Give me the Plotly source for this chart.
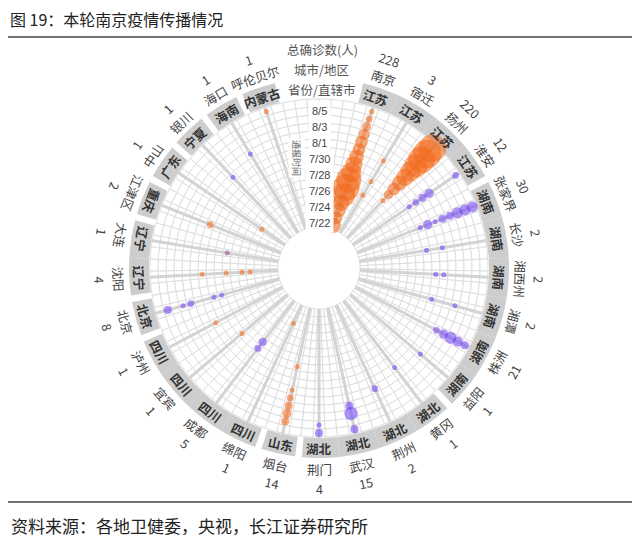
import math
import plotly.graph_objects as go

# ---------------- data ----------------
CITIES = ['南京', '宿迁', '扬州', '淮安', '张家界', '长沙', '湘西州', '湘潭', '株洲', '益阳',
          '黄冈', '荆州', '武汉', '荆门', '烟台', '绵阳', '成都', '宜宾', '泸州', '北京',
          '沈阳', '大连', '江津区', '中山', '银川', '海口', '呼伦贝尔']
PROVINCES = ['江苏', '江苏', '江苏', '江苏', '湖南', '湖南', '湖南', '湖南', '湖南', '湖南',
             '湖北', '湖北', '湖北', '湖北', '山东', '四川', '四川', '四川', '四川', '北京',
             '辽宁', '辽宁', '重庆', '广东', '宁夏', '海南', '内蒙古']
TOTALS = [228, 3, 220, 12, 30, 2, 2, 2, 21, 1, 1, 2, 15, 4, 14, 1, 5, 1, 1, 8, 4, 1, 2, 1, 1, 1, 1]
# chain: N = 南京/扬州链 (orange), Z = 张家界链 (purple), M = mixed
CHAIN = ['N', 'N', 'N', 'Z', 'Z', 'Z', 'Z', 'Z', 'Z', 'Z',
         'Z', 'Z', 'Z', 'Z', 'N', 'N', 'Z', 'N', 'N', 'Z',
         'N', 'M', 'N', 'N', 'Z', 'Z', 'N']

DATES = ['7/22', '7/23', '7/24', '7/25', '7/26', '7/27', '7/28', '7/29', '7/30', '7/31',
         '8/1', '8/2', '8/3', '8/4', '8/5', '8/6']
DATE_TICKS = ['7/22', '7/24', '7/26', '7/28', '7/30', '8/1', '8/3', '8/5']
HEADER = ['省份/直辖市', '城市/地区', '总确诊数(人)']
AXIS_NAME = '通报时间'

DOT_CITY = (['南京'] * 16 + ['宿迁'] * 3 + ['扬州'] * 10 + ['淮安'] * 5 + ['张家界'] * 8 +
            ['长沙'] * 2 + ['湘西州'] * 2 + ['湘潭'] * 2 + ['株洲'] * 5 + ['益阳', '黄冈', '荆州'] +
            ['武汉'] * 3 + ['荆门'] * 2 + ['烟台'] * 6 + ['绵阳'] + ['成都'] * 2 + ['宜宾', '泸州'] +
            ['北京'] * 5 + ['沈阳'] * 4 + ['大连', '江津区', '中山', '银川', '海口', '呼伦贝尔'])
DOT_DATE = (DATES[:] +
            ['7/27', '7/29', '8/1'] +
            ['7/28', '7/29', '7/30', '7/31', '8/1', '8/2', '8/3', '8/4', '8/5', '8/6'] +
            ['7/30', '7/31', '8/1', '8/2', '8/6'] +
            ['7/30', '7/31', '8/1', '8/2', '8/3', '8/4', '8/5', '8/6'] +
            ['7/30', '8/1'] + ['7/31', '8/1'] + ['7/31', '8/3'] +
            ['8/2', '8/3', '8/4', '8/5', '8/6'] + ['8/2', '8/1', '8/2'] +
            ['8/3', '8/4', '8/6'] + ['8/5', '8/6'] +
            ['7/29', '8/1', '8/2', '8/3', '8/4', '8/5'] + ['7/24'] + ['7/28', '7/29'] +
            ['7/29', '7/31'] +
            ['7/29', '7/30', '8/2', '8/3', '8/5'] + ['7/25', '7/26', '7/28', '7/31'] +
            ['7/28', '7/31', '7/25', '8/1', '8/2', '8/6'])
DOT_COUNT = ([12, 8, 10, 14, 30, 40, 35, 22, 16, 12, 8, 8, 6, 4, 2, 1] +
             [1, 1, 1] +
             [1, 4, 8, 12, 16, 22, 30, 40, 45, 42] +
             [1, 2, 3, 4, 2] +
             [1, 4, 1, 3, 3, 6, 6, 6] +
             [1, 1] + [1, 1] + [1, 1] +
             [2, 4, 7, 5, 3] + [1, 1, 2] +
             [3, 9, 3] + [1, 3] +
             [1, 1, 2, 3, 4, 3] + [1] + [3, 2] +
             [1, 1] +
             [1, 1, 2, 1, 3] + [1, 1, 1, 1] +
             [1, 2, 1, 1, 1, 1])

# ---------------- styling / geometry ----------------
OFF = 8                    # page body margin of the browser
W, H = 640 - 2 * OFF, 548 - 2 * OFF
CX, CY = 319 - OFF, 268 - OFF   # centre of the wheel (figure px)
R0, PXD = 45, 8            # radius of first date ring, px per day
RMAX = 191                 # outer radius of polar area (px)
NSLOT = 29
SLOT = 360 / NSLOT
FONT = 'Noto Sans CJK SC'
COLORS = {'N': 'rgba(242,104,24,0.8)', 'Z': 'rgba(118,72,242,0.85)', 'M': 'rgba(160,88,135,0.85)'}

city_theta = {c: (i + 1.5) * SLOT for i, c in enumerate(CITIES)}
day_idx = {d: i for i, d in enumerate(DATES)}
n_days = len(DATES)

fig = go.Figure()

# grid cells (one ring per day, three cells per slot)
sub = 3
cell_theta, cell_base, cell_r, cell_w = [], [], [], []
for k in range(NSLOT * sub):
    for d in range(n_days):
        cell_theta.append((k + 0.5) * SLOT / sub)
        cell_base.append(d - 0.5)
        cell_r.append(1)
        cell_w.append(SLOT / sub)
fig.add_trace(go.Barpolar(theta=cell_theta, r=cell_r, base=cell_base, width=cell_w,
                          marker=dict(color='white', line=dict(color='#dedede', width=1)),
                          hoverinfo='skip', showlegend=False))

# spokes
sp_t, sp_r = [], []
for c in CITIES:
    sp_t += [city_theta[c], city_theta[c], None]
    sp_r += [-0.5, n_days - 0.4, None]
fig.add_trace(go.Scatterpolar(theta=sp_t, r=sp_r, mode='lines',
                              line=dict(color='#d3d3d3', width=3),
                              hoverinfo='skip', showlegend=False))

# province band
band_t, band_w = [], []
gap = 1.0
for i, c in enumerate(CITIES):
    a0 = city_theta[c] - SLOT / 2
    a1 = city_theta[c] + SLOT / 2
    if i == 0 or PROVINCES[i - 1] != PROVINCES[i]:
        a0 += gap
    if i == len(CITIES) - 1 or PROVINCES[i + 1] != PROVINCES[i]:
        a1 -= gap
    band_t.append((a0 + a1) / 2)
    band_w.append(a1 - a0)
band_base = (170 - R0) / PXD
band_len = (190 - 170) / PXD
fig.add_trace(go.Barpolar(theta=band_t, r=[band_len] * len(band_t), base=[band_base] * len(band_t),
                          width=band_w, marker=dict(color='#cdcdcd', line=dict(width=0)),
                          hoverinfo='skip', showlegend=False))

# dots
for ch in ['N', 'M', 'Z']:
    idx = [i for i, c in enumerate(DOT_CITY) if CHAIN[CITIES.index(c)] == ch]
    fig.add_trace(go.Scatterpolar(
        theta=[city_theta[DOT_CITY[i]] for i in idx],
        r=[day_idx[DOT_DATE[i]] for i in idx],
        mode='markers',
        marker=dict(size=[4.1 * math.sqrt(DOT_COUNT[i]) + 1 for i in idx],
                    color=COLORS[ch], line=dict(width=0)),
        hoverinfo='skip', showlegend=False))


def paper(theta, rpx):
    t = math.radians(theta)
    x = CX + rpx * math.sin(t)
    y = CY - rpx * math.cos(t)
    return x / W, 1 - y / H


def tangent_angle(theta):
    th = theta % 360
    if 110 < th < 300:
        a = th - 180
    else:
        a = th if th <= 180 else th - 360
    return a


ann = []
for i, c in enumerate(CITIES):
    th = city_theta[c]
    ang = tangent_angle(th)
    for rpx, txt, size, col in [(180, '<b>%s</b>' % PROVINCES[i], 12.5, '#333333'),
                                (201, c, 12.5, '#444444'),
                                (220, str(TOTALS[i]), 12.5, '#444444')]:
        x, y = paper(th, rpx)
        ann.append(dict(x=x, y=y, xref='paper', yref='paper', text=txt, showarrow=False,
                        textangle=ang, font=dict(family=FONT, size=size, color=col),
                        xanchor='center', yanchor='middle'))

for rpx, txt in zip([179, 199, 219], HEADER):
    x, y = paper(0.8, rpx)
    ann.append(dict(x=x, y=y, xref='paper', yref='paper', text=txt, showarrow=False,
                    font=dict(family=FONT, size=12.5, color='#555555'),
                    xanchor='center', yanchor='middle'))

for dstr in DATE_TICKS:
    x, y = paper(0, R0 + PXD * day_idx[dstr])
    ann.append(dict(x=x, y=y, xref='paper', yref='paper', text=dstr, showarrow=False,
                    font=dict(family='Liberation Sans', size=11, color='#444444'),
                    bgcolor='white', borderpad=3, xanchor='center', yanchor='middle'))

x, y = paper(-11.3, 112)
ann.append(dict(x=x, y=y, xref='paper', yref='paper', text=AXIS_NAME, showarrow=False,
                textangle=90, font=dict(family=FONT, size=9, color='#666666'),
                bgcolor='white', xanchor='center', yanchor='middle'))

ann.append(dict(x=(9 - OFF) / W, y=1 - (19 - OFF) / H, xref='paper', yref='paper',
                xanchor='left', yanchor='middle', borderpad=0,
                text='图 19：本轮南京疫情传播情况', showarrow=False,
                font=dict(family=FONT, size=16, color='#222222')))
ann.append(dict(x=(9 - OFF) / W, y=1 - (525 - OFF) / H, xref='paper', yref='paper',
                xanchor='left', yanchor='middle',
                text='资料来源：各地卫健委，央视，长江证券研究所', showarrow=False,
                font=dict(family=FONT, size=17, color='#222222')))

shapes = [dict(type='line', xref='paper', yref='paper', x0=0, x1=1,
               y0=1 - (37 - OFF) / H, y1=1 - (37 - OFF) / H, line=dict(color='#444444', width=1.5)),
          dict(type='line', xref='paper', yref='paper', x0=0, x1=1,
               y0=1 - (502 - OFF) / H, y1=1 - (502 - OFF) / H, line=dict(color='#444444', width=1.5))]

fig.update_layout(
    width=W, height=H, autosize=False,
    margin=dict(l=0, r=0, t=0, b=0),
    paper_bgcolor='white', plot_bgcolor='white',
    showlegend=False,
    polar=dict(
        domain=dict(x=[(CX - RMAX) / W, (CX + RMAX) / W], y=[1 - (CY + RMAX) / H, 1 - (CY - RMAX) / H]),
        bgcolor='rgba(0,0,0,0)',
        radialaxis=dict(range=[-R0 / PXD, (RMAX - R0) / PXD], visible=False),
        angularaxis=dict(rotation=90, direction='clockwise', visible=False),
        barmode='overlay',
    ),
    annotations=ann, shapes=shapes,
)

fig.write_html('out.html')
